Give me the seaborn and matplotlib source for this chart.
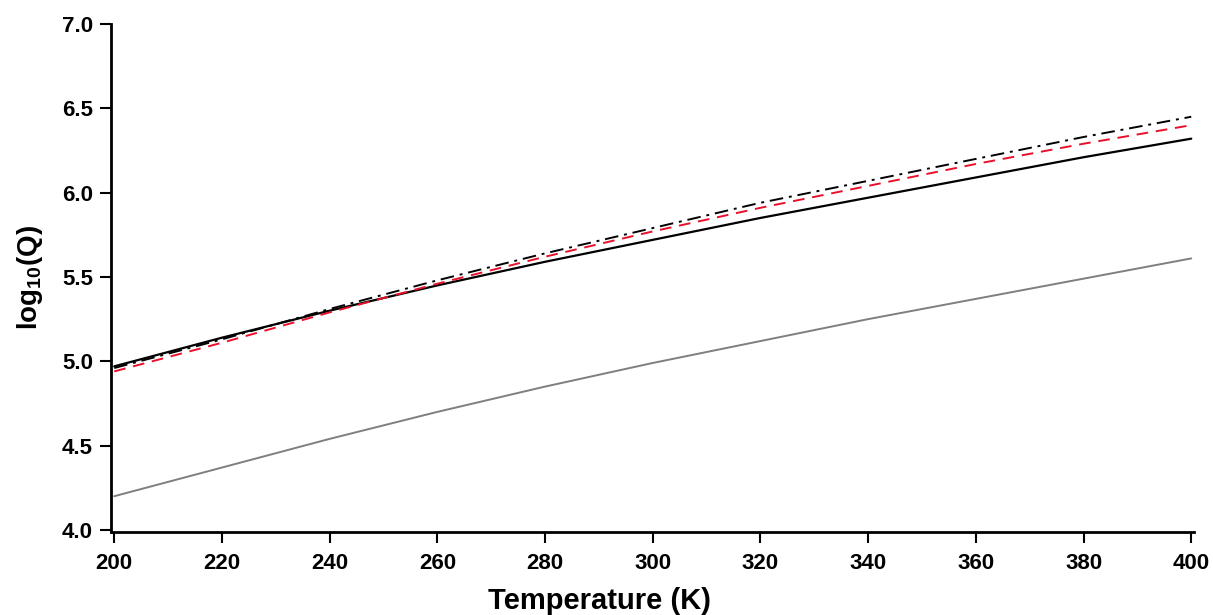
import numpy as np
import pandas as pd
import matplotlib
matplotlib.use("Agg")
import matplotlib.pyplot as plt
import seaborn as sns

temperature = [200, 220, 240, 260, 280, 300, 320, 340, 360, 380, 400]
q_solid = [4.97, 5.14, 5.30, 5.45, 5.59, 5.72, 5.85, 5.97, 6.09, 6.21, 6.32]
q_dashdot = [4.96, 5.13, 5.31, 5.48, 5.64, 5.79, 5.94, 6.07, 6.20, 6.33, 6.45]
q_red = [4.94, 5.11, 5.29, 5.46, 5.62, 5.77, 5.91, 6.04, 6.17, 6.29, 6.40]
q_gray = [4.20, 4.37, 4.54, 4.70, 4.85, 4.99, 5.12, 5.25, 5.37, 5.49, 5.61]

x_ticks = [200, 220, 240, 260, 280, 300, 320, 340, 360, 380, 400]
y_ticks = [4.0, 4.5, 5.0, 5.5, 6.0, 6.5, 7.0]

sns.set_style("ticks")
plt.rcParams['font.family'] = ['Liberation Sans', 'DejaVu Sans']
plt.rcParams['font.weight'] = 'bold'
plt.rcParams['text.color'] = 'black'
plt.rcParams['axes.labelcolor'] = 'black'
plt.rcParams['xtick.color'] = 'black'
plt.rcParams['ytick.color'] = 'black'
plt.rcParams['mathtext.fontset'] = 'custom'
plt.rcParams['mathtext.rm'] = 'Liberation Sans:bold'
plt.rcParams['mathtext.default'] = 'rm'

fig = plt.figure(figsize=(12.13, 6.15), dpi=100)
ax = fig.add_axes([0.0915, 0.135, 0.8928, 0.826])

df = pd.DataFrame({"T": temperature, "solid": q_solid, "dashdot": q_dashdot,
                   "red": q_red, "gray": q_gray})

sns.lineplot(data=df, x="T", y="gray", ax=ax, color="#7f7f7f", linewidth=1.4)
sns.lineplot(data=df, x="T", y="solid", ax=ax, color="black", linewidth=1.6)
sns.lineplot(data=df, x="T", y="red", ax=ax, color="#e8102a", linewidth=1.4,
             linestyle=(0, (6, 4)))
sns.lineplot(data=df, x="T", y="dashdot", ax=ax, color="black", linewidth=1.4,
             linestyle=(0, (7, 3, 1.5, 3)))

ax.set_xlim(199.4, 400.5)
ax.set_ylim(3.988, 7.0)
ax.set_xticks(x_ticks)
ax.set_yticks(y_ticks)
ax.set_yticklabels([f"{v:.1f}" for v in y_ticks])
ax.tick_params(axis='both', labelsize=16, width=1.5, length=8, direction='out',
               color='black', labelcolor='black')
ax.tick_params(axis='x', pad=7)
ax.tick_params(axis='y', pad=5)
for lab in ax.get_xticklabels() + ax.get_yticklabels():
    lab.set_fontweight('bold')

for side in ['top', 'right']:
    ax.spines[side].set_visible(False)
for side in ['left', 'bottom']:
    ax.spines[side].set_linewidth(2.0)
    ax.spines[side].set_color('black')

ax.set_xlabel("Temperature (K)", fontsize=21, fontweight='bold')
ax.xaxis.set_label_coords(0.4515, -0.108)
ax.set_ylabel(r"log$_{10}$(Q)", fontsize=20, fontweight='bold', labelpad=12)

fig.savefig("out.png", dpi=100)
